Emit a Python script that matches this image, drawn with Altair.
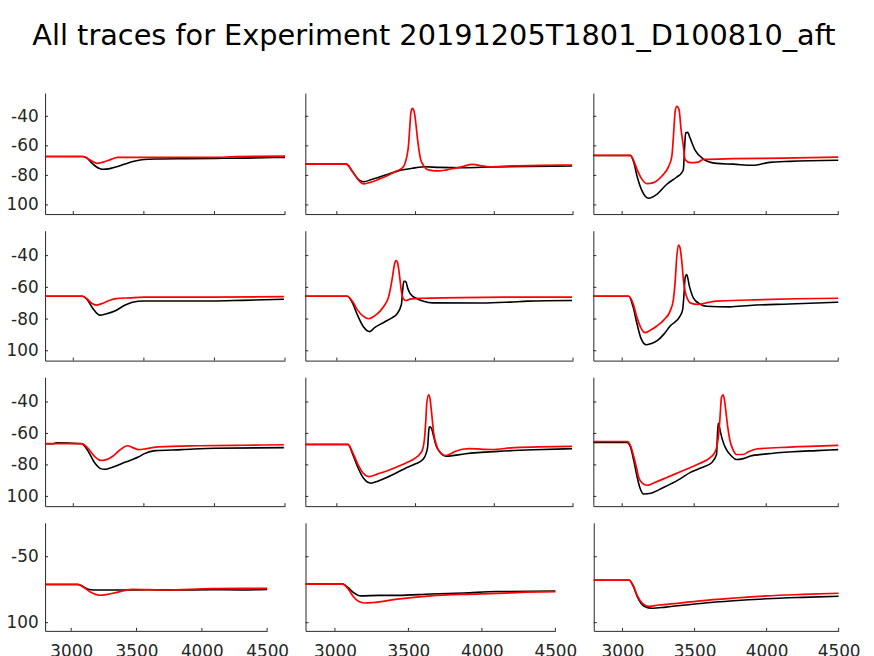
import altair as alt
import pandas as pd

TITLE = "All traces for Experiment 20191205T1801_D100810_aft"
X_DOMAIN = [2800, 4500]
Y_DOMAIN = [-106.2, -24.3]
X_TICKS = [3000, 3500, 4000, 4500]
Y_TICKS_MAIN = [-100, -80, -60, -40]
Y_TICKS_LAST = [-100, -50]

# ---------------- row 1 ----------------
R1C1_K_T = [2800, 3065, 3100, 3130, 3160, 3190, 3214, 3250, 3300, 3360, 3430, 3500, 3600, 3800, 4000, 4200, 4500]
R1C1_K_V = [-67.2, -67.2, -68.5, -71.5, -74.0, -75.5, -75.9, -75.6, -74.3, -72.5, -70.5, -69.2, -68.9, -68.7, -68.5, -68.3, -67.8]
R1C1_R_T = [2800, 3065, 3100, 3140, 3170, 3210, 3260, 3314, 3400, 3600, 4000, 4150, 4500]
R1C1_R_V = [-67.2, -67.2, -68.5, -70.8, -71.9, -71.0, -69.5, -67.8, -67.8, -67.8, -67.8, -67.3, -67.0]

R1C2_K_T = [2800, 3060, 3100, 3140, 3171, 3220, 3275, 3330, 3379, 3430, 3480, 3520, 3560, 3650, 3800, 4000, 4200, 4494]
R1C2_K_V = [-72.4, -72.4, -77.5, -83.0, -84.3, -82.8, -80.9, -79.0, -77.3, -76.0, -75.2, -74.5, -74.2, -74.6, -74.8, -74.3, -74.0, -73.7]
R1C2_R_T = [2800, 3060, 3100, 3140, 3171, 3220, 3275, 3330, 3379, 3410, 3431, 3445, 3455, 3463, 3470, 3479, 3487, 3495, 3503,
            3512, 3522, 3533, 3546, 3565, 3588, 3650, 3733, 3800, 3858, 3963, 4108, 4300, 4494]
R1C2_R_V = [-72.4, -72.4, -77.5, -83.5, -85.8, -84.5, -82.2, -79.8, -77.1, -75.5, -72.5, -67.0, -60.0, -48.0, -38.0, -34.6, -35.5,
            -39.0, -46.0, -55.0, -63.0, -69.5, -72.6, -75.4, -76.4, -77.0, -75.5, -74.0, -72.6, -74.2, -73.6, -73.2, -73.0]

R1C3_K_T = [2800, 3057, 3080, 3103, 3138, 3184, 3241, 3310, 3379, 3414, 3425, 3434, 3441, 3455, 3471, 3506, 3563, 3655, 3770,
            3908, 4023, 4161, 4500]
R1C3_K_V = [-66.5, -66.5, -71.0, -80.4, -90.5, -95.5, -92.8, -86.0, -81.1, -78.2, -75.9, -60.2, -51.2, -50.9, -54.6, -62.9,
            -68.9, -71.9, -72.4, -73.2, -71.2, -70.5, -69.8]
R1C3_R_T = [2800, 3057, 3080, 3103, 3138, 3172, 3218, 3276, 3322, 3345, 3356, 3368, 3379, 3395, 3409, 3425, 3437, 3471, 3529,
            3563, 3770, 4115, 4500]
R1C3_R_V = [-66.5, -66.5, -70.0, -75.9, -82.7, -85.6, -84.9, -80.4, -74.1, -67.0, -53.5, -36.6, -33.3, -35.6, -49.0, -60.2,
            -69.2, -71.4, -71.0, -69.2, -68.7, -68.3, -67.6]

# ---------------- row 2 ----------------
R2C1_K_T = [2800, 3065, 3100, 3140, 3186, 3230, 3302, 3360, 3419, 3500, 3700, 3965, 4200, 4492]
R2C1_K_V = [-65.6, -65.6, -68.0, -73.5, -77.5, -76.8, -74.6, -71.5, -69.4, -68.6, -68.6, -68.6, -68.2, -67.5]
R2C1_R_T = [2800, 3065, 3100, 3130, 3163, 3200, 3250, 3302, 3400, 3500, 4000, 4492]
R2C1_R_V = [-65.6, -65.6, -67.5, -70.0, -71.2, -70.3, -68.5, -67.1, -66.6, -66.2, -66.2, -65.9]

R2C2_K_T = [2800, 3067, 3100, 3129, 3170, 3208, 3240, 3300, 3350, 3379, 3410, 3418, 3425, 3438, 3450, 3463, 3480, 3504, 3550,
            3608, 3921, 4100, 4213, 4494]
R2C2_K_V = [-65.6, -65.6, -70.0, -77.0, -85.0, -87.9, -85.4, -82.0, -79.2, -77.1, -70.8, -62.0, -56.2, -56.4, -60.5, -63.5,
            -65.5, -66.9, -68.8, -69.8, -69.9, -69.3, -68.7, -68.3]
R2C2_R_T = [2800, 3067, 3100, 3129, 3165, 3202, 3240, 3275, 3305, 3327, 3342, 3354, 3365, 3375, 3384, 3392, 3401, 3410, 3425,
            3438, 3470, 3550, 3667, 4150, 4494]
R2C2_R_V = [-65.6, -65.6, -69.0, -73.9, -78.0, -79.8, -78.0, -75.0, -71.0, -66.6, -60.0, -53.1, -46.0, -43.1, -44.0, -47.9,
            -55.0, -62.5, -67.5, -68.3, -67.3, -66.9, -66.6, -66.2, -66.2]

R2C3_K_T = [2800, 3046, 3075, 3103, 3130, 3168, 3200, 3241, 3290, 3333, 3402, 3420, 3428, 3437, 3448, 3467, 3494, 3540, 3586,
            3747, 3885, 4161, 4500]
R2C3_K_V = [-65.6, -65.6, -72.0, -83.0, -92.0, -96.2, -95.5, -93.8, -89.5, -84.4, -78.1, -74.0, -66.0, -54.1, -52.0, -59.4,
            -66.6, -70.5, -71.9, -72.3, -71.4, -70.5, -69.4]
R2C3_R_T = [2800, 3046, 3075, 3103, 3130, 3161, 3200, 3241, 3290, 3333, 3355, 3368, 3378, 3390, 3400, 3414, 3425, 3437, 3455,
            3471, 3529, 3600, 3655, 3885, 4207, 4500]
R2C3_R_V = [-65.6, -65.6, -70.0, -79.1, -85.5, -88.5, -86.8, -84.4, -80.5, -75.0, -68.0, -56.2, -42.0, -33.3, -34.5, -43.7,
            -55.0, -62.5, -67.5, -69.8, -70.8, -69.5, -68.7, -68.0, -67.2, -66.9]

# ---------------- row 3 ----------------
R3C1_K_T = [2800, 2860, 2880, 3058, 3100, 3150, 3190, 3221, 3260, 3302, 3360, 3419, 3460, 3500, 3581, 3767, 4000, 4492]
R3C1_K_V = [-66.5, -66.5, -66.0, -66.5, -70.5, -78.5, -82.2, -82.8, -82.0, -80.7, -78.5, -76.6, -75.0, -73.0, -70.9, -70.3,
            -69.4, -69.0]
R3C1_R_T = [2800, 3058, 3100, 3150, 3198, 3240, 3279, 3330, 3384, 3420, 3465, 3520, 3605, 3884, 4200, 4492]
R3C1_R_V = [-66.5, -66.5, -69.0, -74.5, -77.2, -76.5, -74.5, -70.5, -67.8, -69.0, -70.3, -69.6, -68.5, -67.8, -67.5, -67.2]

R3C2_K_T = [2800, 3071, 3100, 3129, 3170, 3217, 3260, 3317, 3380, 3442, 3500, 3546, 3566, 3577, 3584, 3588, 3596, 3604, 3615,
            3629, 3660, 3692, 3817, 4025, 4250, 4494]
R3C2_K_V = [-67.0, -67.0, -73.0, -80.5, -88.5, -91.6, -90.3, -88.0, -85.0, -81.8, -79.3, -76.6, -73.0, -68.2, -58.0, -55.7,
            -56.0, -57.7, -62.0, -67.3, -72.5, -74.5, -72.9, -71.4, -70.4, -69.7]
R3C2_R_T = [2800, 3071, 3100, 3129, 3165, 3202, 3260, 3317, 3380, 3442, 3500, 3525, 3545, 3556, 3565, 3571, 3583, 3592, 3598,
            3607, 3615, 3630, 3650, 3692, 3720, 3754, 3838, 3983, 4129, 4494]
R3C2_R_V = [-67.0, -67.0, -72.0, -78.6, -85.0, -87.4, -85.7, -83.9, -81.3, -78.6, -75.5, -73.4, -70.0, -64.0, -52.0, -41.0,
            -35.4, -38.0, -43.1, -52.0, -59.8, -66.5, -71.3, -74.0, -73.0, -71.3, -69.7, -70.2, -69.0, -68.2]

R3C3_K_T = [2800, 3034, 3057, 3080, 3100, 3125, 3149, 3200, 3250, 3310, 3400, 3471, 3550, 3621, 3655, 3661, 3667, 3672, 3680,
            3690, 3705, 3724, 3760, 3793, 3840, 3885, 4000, 4184, 4350, 4500]
R3C3_K_V = [-65.7, -65.7, -68.5, -77.0, -86.0, -95.0, -98.5, -98.0, -96.0, -93.3, -89.0, -84.9, -81.8, -78.6, -73.4, -62.0,
            -53.5, -54.5, -58.0, -62.0, -66.5, -70.3, -74.5, -76.6, -76.0, -74.5, -73.0, -71.6, -70.9, -70.3]
R3C3_R_T = [2800, 3034, 3057, 3080, 3100, 3115, 3140, 3172, 3230, 3310, 3400, 3471, 3540, 3609, 3640, 3655, 3668, 3678, 3690,
            3701, 3710, 3719, 3733, 3747, 3770, 3793, 3839, 3880, 3931, 4161, 4500]
R3C3_R_V = [-65.1, -65.1, -67.5, -74.5, -82.0, -88.0, -91.5, -92.9, -91.0, -88.0, -84.5, -81.8, -79.0, -75.5, -72.5, -69.2,
            -62.0, -51.5, -36.9, -35.4, -38.5, -45.2, -56.0, -64.0, -70.5, -73.4, -73.4, -71.5, -69.9, -68.7, -67.6]

# ---------------- row 4 ----------------
R4C1_K_T = [2800, 3050, 3090, 3130, 3170, 3400, 3600, 3800, 4073, 4300, 4500]
R4C1_K_V = [-71.0, -71.0, -72.5, -74.7, -75.2, -75.2, -75.0, -75.2, -75.0, -75.2, -74.8]
R4C1_R_T = [2800, 3050, 3100, 3150, 3214, 3280, 3341, 3400, 3467, 3720, 4073, 4500]
R4C1_R_V = [-71.0, -71.0, -73.5, -77.0, -79.2, -78.5, -77.2, -75.8, -74.7, -75.2, -74.2, -74.0]

R4C2_K_T = [2800, 3054, 3090, 3122, 3178, 3300, 3426, 3651, 3876, 4101, 4500]
R4C2_K_V = [-70.8, -70.8, -73.5, -76.8, -79.7, -79.3, -79.3, -78.3, -77.5, -76.4, -76.0]
R4C2_R_T = [2800, 3054, 3090, 3122, 3160, 3201, 3260, 3426, 3651, 3876, 4101, 4300, 4500]
R4C2_R_V = [-70.8, -70.8, -74.5, -79.7, -83.8, -85.1, -84.7, -82.1, -79.7, -78.5, -77.8, -76.9, -76.4]

R4C3_K_T = [2800, 3046, 3075, 3103, 3150, 3207, 3300, 3540, 3770, 4000, 4250, 4500]
R4C3_K_V = [-67.8, -67.8, -72.5, -80.5, -87.5, -89.1, -88.2, -85.4, -83.4, -81.9, -80.8, -79.9]
R4C3_R_T = [2800, 3046, 3075, 3103, 3140, 3184, 3250, 3310, 3540, 3770, 4000, 4250, 4500]
R4C3_R_V = [-67.8, -67.8, -72.0, -79.7, -85.5, -87.6, -86.6, -86.1, -83.4, -81.4, -79.7, -78.6, -77.7]

TRACES = [
    [(R1C1_K_T, R1C1_K_V, R1C1_R_T, R1C1_R_V), (R1C2_K_T, R1C2_K_V, R1C2_R_T, R1C2_R_V), (R1C3_K_T, R1C3_K_V, R1C3_R_T, R1C3_R_V)],
    [(R2C1_K_T, R2C1_K_V, R2C1_R_T, R2C1_R_V), (R2C2_K_T, R2C2_K_V, R2C2_R_T, R2C2_R_V), (R2C3_K_T, R2C3_K_V, R2C3_R_T, R2C3_R_V)],
    [(R3C1_K_T, R3C1_K_V, R3C1_R_T, R3C1_R_V), (R3C2_K_T, R3C2_K_V, R3C2_R_T, R3C2_R_V), (R3C3_K_T, R3C3_K_V, R3C3_R_T, R3C3_R_V)],
    [(R4C1_K_T, R4C1_K_V, R4C1_R_T, R4C1_R_V), (R4C2_K_T, R4C2_K_V, R4C2_R_T, R4C2_R_V), (R4C3_K_T, R4C3_K_V, R4C3_R_T, R4C3_R_V)],
]

# layout (plot-area sizes per panel)
ROW_HEIGHTS = [122, 131, 130, 109]
COL_WIDTHS = [[242, 270, 247], [242, 270, 247], [242, 270, 247], [224, 252, 247]]
ROW_SPACING = [20.5, 20.5, 20.5, 38.7]

AX = "#262626"
FONT = "DejaVu Sans"
TICK_LEN = 3


def panel(traces, w, h, row, col):
    kt, kv, rt, rv = traces
    last_row = row == 3
    first_col = col == 0
    xs = alt.Scale(domain=X_DOMAIN, nice=False, zero=False)
    ys = alt.Scale(domain=Y_DOMAIN, nice=False, zero=False)
    yt = Y_TICKS_LAST if last_row else Y_TICKS_MAIN

    x_axis = alt.Axis(values=X_TICKS, format="d", ticks=False, labels=last_row, grid=False,
                      labelFlush=False, labelOverlap=False, labelPadding=13, title=None)
    y_axis = alt.Axis(values=yt, ticks=False, labels=first_col, grid=False,
                      labelExpr="toString(datum.value)", labelPadding=7, labelOverlap=False, title=None)

    black = alt.Chart(pd.DataFrame({"t": kt, "v": kv})).mark_line(
        color="#000000", strokeWidth=1.6, interpolate="monotone").encode(
        x=alt.X("t:Q", scale=xs, axis=x_axis),
        y=alt.Y("v:Q", scale=ys, axis=y_axis),
    )
    red = alt.Chart(pd.DataFrame({"t": rt, "v": rv})).mark_line(
        color="#ff0000", strokeWidth=1.7, interpolate="monotone").encode(
        x=alt.X("t:Q", scale=xs, axis=x_axis),
        y=alt.Y("v:Q", scale=ys, axis=y_axis),
    )
    yticks = alt.Chart(pd.DataFrame({"tv": yt})).mark_rule(color=AX, strokeWidth=1).encode(
        y=alt.Y("tv:Q", scale=ys, axis=y_axis),
        x=alt.value(0),
        x2=alt.value(TICK_LEN),
    )
    xticks = alt.Chart(pd.DataFrame({"tx": X_TICKS})).mark_rule(color=AX, strokeWidth=1).encode(
        x=alt.X("tx:Q", scale=xs, axis=x_axis),
        y=alt.value(h),
        y2=alt.value(h - TICK_LEN),
    )
    return alt.layer(black, red, yticks, xticks).properties(width=w, height=h)


rows = []
for r in range(4):
    panels = [panel(TRACES[r][c], COL_WIDTHS[r][c], ROW_HEIGHTS[r], r, c) for c in range(3)]
    rows.append(alt.hconcat(*panels, spacing=ROW_SPACING[r], bounds="flush"))

chart = alt.vconcat(*rows, spacing=15.8).properties(
    title=alt.TitleParams(TITLE, fontSize=29, font=FONT, fontWeight="normal", color="#000000",
                          anchor="middle", offset=43, dx=4),
    padding={"left": -8.6, "top": 11, "right": 5, "bottom": 5},
).configure_view(strokeWidth=0).configure_axis(
    domainColor=AX, domainWidth=1, labelFont=FONT, labelFontSize=17, labelColor=AX,
)

chart.save("out.html", embed_options={"renderer": "svg", "actions": False})
